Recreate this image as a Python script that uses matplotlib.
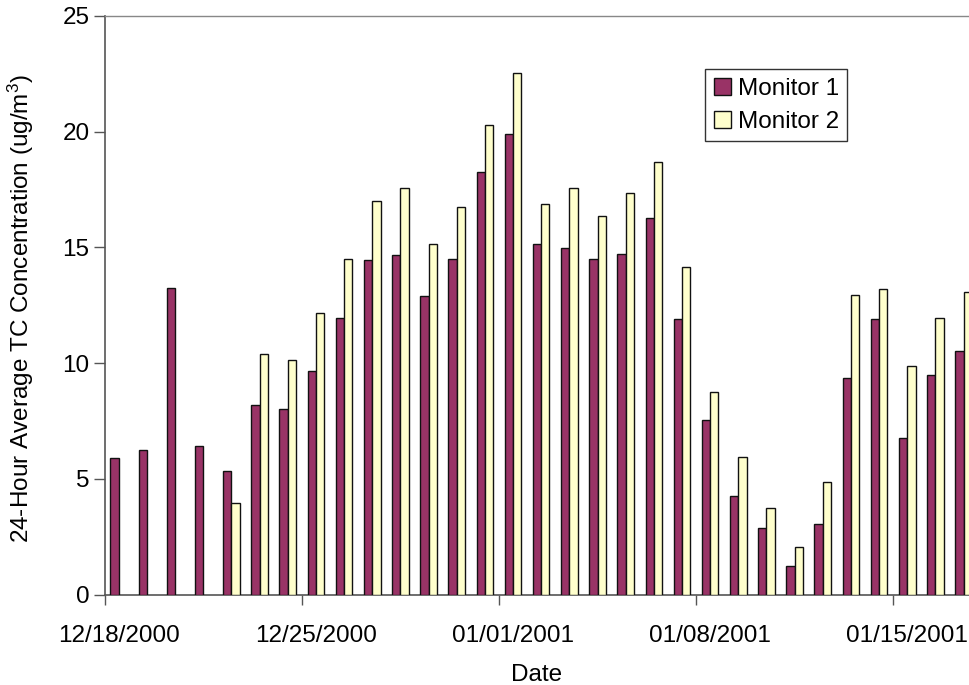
import matplotlib
matplotlib.use("Agg")
import matplotlib.pyplot as plt
import numpy as np

plt.rcParams['font.family'] = ['Liberation Sans', 'DejaVu Sans']
plt.rcParams['mathtext.fontset'] = 'custom'
plt.rcParams['mathtext.rm'] = 'Liberation Sans'
plt.rcParams['mathtext.it'] = 'Liberation Sans'

# Dates: 12/18/2000 .. 01/17/2001 (31 days)
day_labels = ["12/18/2000", "12/25/2000", "01/01/2001", "01/08/2001", "01/15/2001"]
n_days = 31
monitor1 = [5.9, 6.25, 13.25, 6.4, 5.35, 8.18, 8.02, 9.66, 11.95, 14.45,
            14.66, 12.91, 14.5, 18.25, 19.89, 15.15, 14.96, 14.5, 14.7, 16.26,
            11.92, 7.55, 4.26, 2.87, 1.23, 3.06, 9.36, 11.9, 6.76, 9.47, 10.51]
monitor2 = [np.nan, np.nan, np.nan, np.nan, 3.95, 10.41, 10.12, 12.16, 14.5, 17.0,
            17.55, 15.16, 16.76, 20.29, 22.55, 16.89, 17.55, 16.36, 17.35, 18.7,
            14.15, 8.75, 5.95, 3.75, 2.07, 4.87, 12.96, 13.19, 9.86, 11.95, 13.09]
series_names = ["Monitor 1", "Monitor 2"]
colors = ["#993366", "#FFFFCC"]

fig = plt.figure(figsize=(9.69, 6.85), dpi=100)
ax = fig.add_axes([104.7/969, 1-594.5/685, 1-104.7/969, (594.5-16)/685])

days = np.arange(n_days)
w = 0.295
ax.bar(days + 0.5 - w/2, monitor1, width=w, color=colors[0], edgecolor='#111111',
       linewidth=1.0, label=series_names[0], zorder=3)
ax.bar(days + 0.5 + w/2, monitor2, width=w, color=colors[1], edgecolor='#111111',
       linewidth=1.0, label=series_names[1], zorder=3)

ax.set_xlim(0, (969-104.7)/28.16)
ax.set_ylim(0, 25)
ax.set_yticks([0, 5, 10, 15, 20, 25])

fs = 17.5
tick_pos = np.arange(0, n_days, 7)
ax.set_xticks(tick_pos)
ax.set_xticklabels([])
ax.set_xticks(tick_pos + 0.5, minor=True)
ax.set_xticklabels(day_labels, minor=True)
ax.tick_params(axis='x', which='major', direction='out', length=7, width=1, color='#555555')
ax.tick_params(axis='x', which='minor', length=0, pad=22, labelsize=fs)
ax.tick_params(axis='y', direction='out', length=8, width=1, color='#555555', pad=3, labelsize=fs)

for s in ['left', 'bottom']:
    ax.spines[s].set_color('#555555')
    ax.spines[s].set_linewidth(1.2)
ax.spines['top'].set_color('#888888')
ax.spines['top'].set_linewidth(1.0)
ax.spines['right'].set_visible(False)

ax.set_xlabel("Date", fontsize=fs)
ax.xaxis.set_label_coords(0.5, -0.12)
ax.set_ylabel(r"24-Hour Average TC Concentration (ug/m$^{3}$)", fontsize=fs)
ax.yaxis.set_label_coords(-0.079, 0.495)

leg = ax.legend(loc='upper left', bbox_to_anchor=(705.3/969, 1-69.3/685),
                bbox_transform=fig.transFigure, fontsize=fs, frameon=True,
                fancybox=False, shadow=False, borderaxespad=0, borderpad=0.34,
                handlelength=0.7, handleheight=0.7, handletextpad=0.3,
                labelspacing=0.45)
leg.get_frame().set_edgecolor('black')
leg.get_frame().set_linewidth(1.0)

fig.savefig("out.png", dpi=100)
